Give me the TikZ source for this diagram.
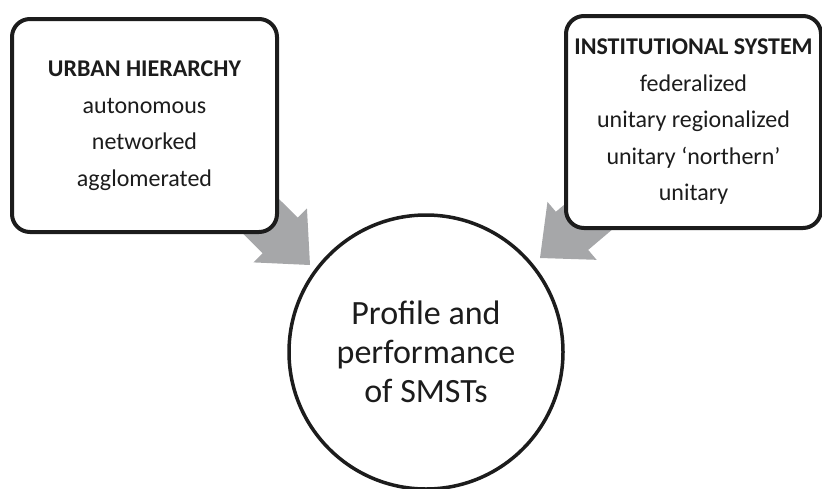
\documentclass[tikz,border=0pt]{standalone}
\usepackage{fontspec}
\setmainfont{Carlito}
\usepackage{xcolor}
\usetikzlibrary{calc}
\definecolor{ink}{HTML}{1C1C1C}
\definecolor{arrowgray}{HTML}{A6A7A9}

% wide gray block arrow from a tail point to a tip point
\newcommand{\blockarrow}[2]{%
  \path (#2) coordinate (bt) ($(#2)!42pt!(#1)$) coordinate (bb);
  \fill[arrowgray] (bt) -- ($(bb)!38pt!90:(bt)$) -- ($(bb)!25pt!90:(bt)$)
    -- ($(#1)!25pt!90:(bt)$) -- ($(#1)!25pt!-90:(bt)$)
    -- ($(bb)!25pt!-90:(bt)$) -- ($(bb)!38pt!-90:(bt)$) -- cycle;
}

\begin{document}
\begin{tikzpicture}[
  x=1pt, y=-1pt,
  factorbox/.style={draw=ink, line width=4pt, rounded corners=18pt, fill=white, align=center, inner sep=0pt, text=ink, font=\fontsize{24}{36.5}\selectfont},
  outcome/.style={draw=ink, circle, line width=3.5pt, fill=white, minimum size=274pt, inner sep=0pt, align=center, text=ink, font=\fontsize{34}{39}\selectfont}
]
\useasboundingbox (0,0) rectangle (822,488);
% arrows go behind the boxes and the circle
\coordinate (urbantail) at (180,136);
\coordinate (urbantip) at (310,265);
\coordinate (insttail) at (632,180);
\coordinate (insttip) at (540,258);
\blockarrow{urbantail}{urbantip}
\blockarrow{insttail}{insttip}

\node[factorbox, minimum width=265pt, minimum height=213pt] (urban) at (144.5,125.5) {\textbf{URBAN HIERARCHY}\\autonomous\\networked\\agglomerated};
\node[factorbox, minimum width=255pt, minimum height=212pt] (inst) at (693.5,122) {\textbf{INSTITUTIONAL SYSTEM}\\federalized\\unitary regionalized\\unitary ‘northern’\\unitary};
\node[outcome] (smst) at (426,352) {Profile and\\performance\\of SMSTs};
\end{tikzpicture}
\end{document}
